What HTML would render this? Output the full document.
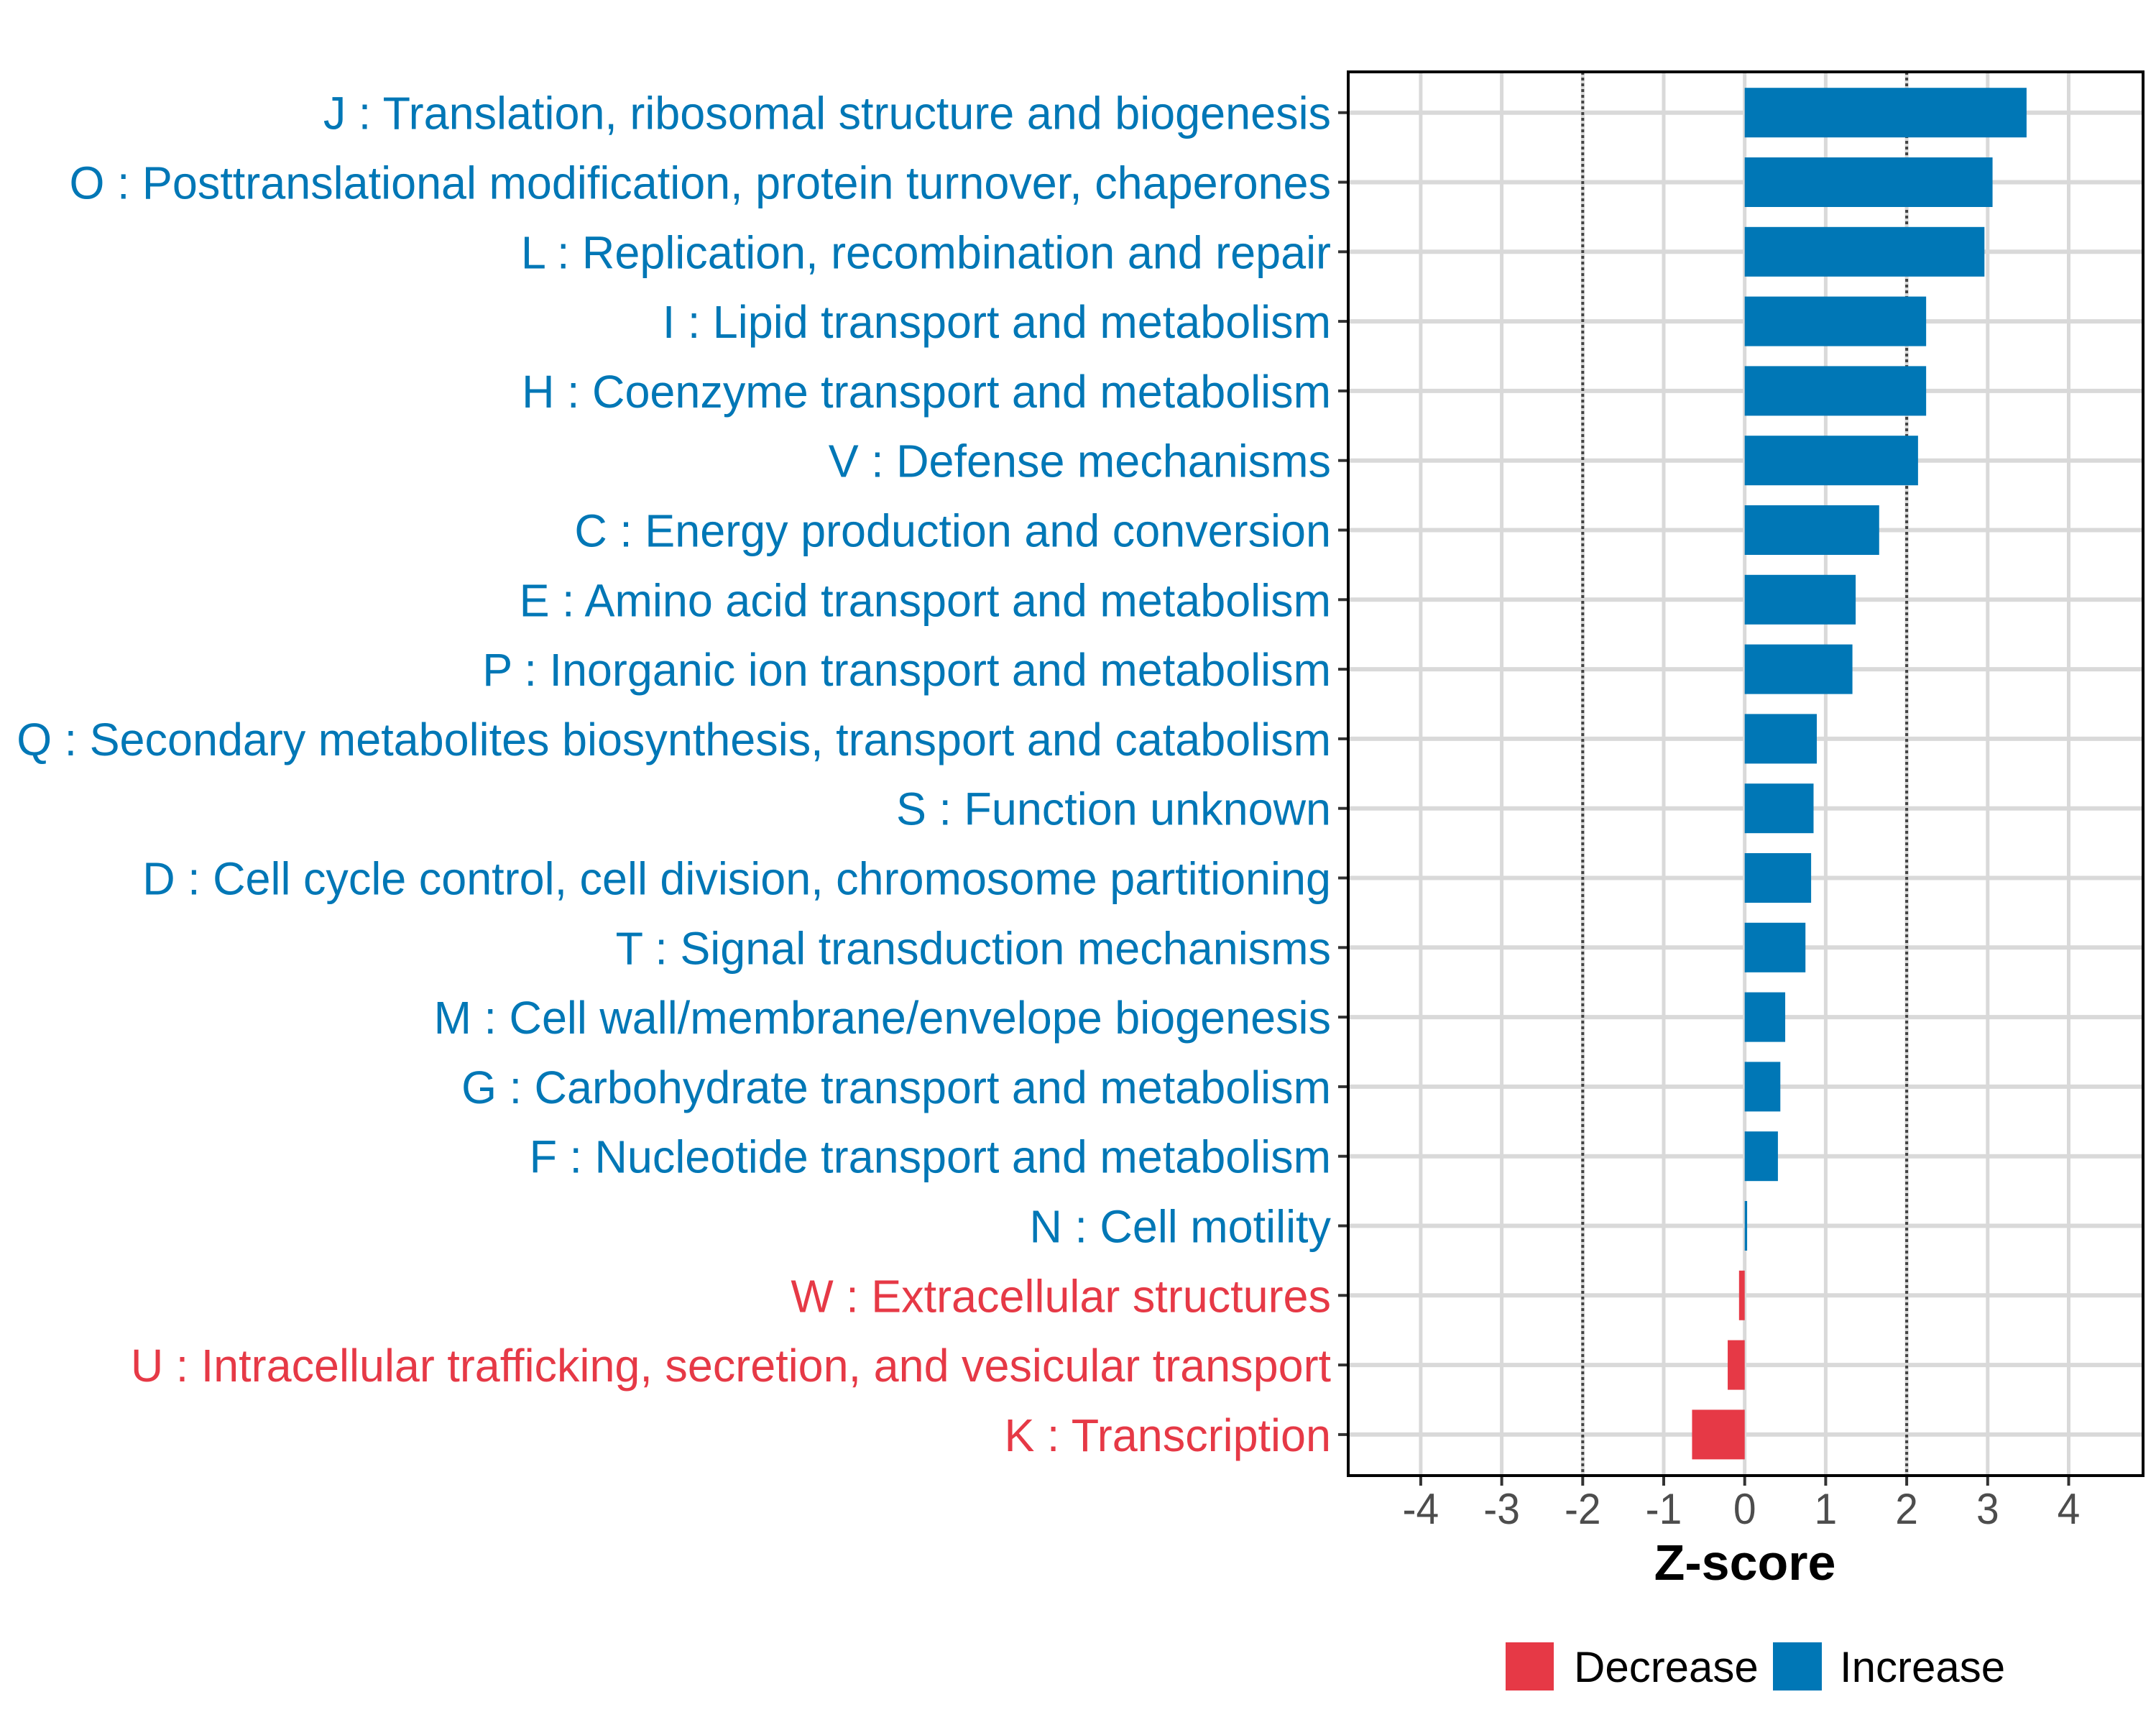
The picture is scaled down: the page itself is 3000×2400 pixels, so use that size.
<!DOCTYPE html>
<html><head><meta charset="utf-8"><style>
html,body{margin:0;padding:0;background:#fff}
svg{display:block;font-family:"Liberation Sans",Arial,sans-serif}
</style></head><body>
<svg id="chart" width="3000" height="2400" viewBox="0 0 3000 2400" xmlns="http://www.w3.org/2000/svg">
<rect width="3000" height="2400" fill="#fff"/>
<g id="grid"></g><g id="bars"></g><g id="labels"></g><g id="axis"></g>
<text x="2428" y="2198" text-anchor="middle" font-weight="bold" font-size="70" fill="#000">Z-score</text>
<g>
<rect x="2095" y="2285" width="67" height="67" fill="#e63946"/>
<text id="lg1" x="2190" y="2340" font-size="60" fill="#000">Decrease</text>
<rect x="2467" y="2285" width="68" height="67" fill="#0077b6"/>
<text id="lg2" x="2560" y="2340" font-size="60" fill="#000">Increase</text>
</g>
</svg>
<script>
const categories=["J : Translation, ribosomal structure and biogenesis","O : Posttranslational modification, protein turnover, chaperones","L : Replication, recombination and repair","I : Lipid transport and metabolism","H : Coenzyme transport and metabolism","V : Defense mechanisms","C : Energy production and conversion","E : Amino acid transport and metabolism","P : Inorganic ion transport and metabolism","Q : Secondary metabolites biosynthesis, transport and catabolism","S : Function unknown","D : Cell cycle control, cell division, chromosome partitioning","T : Signal transduction mechanisms","M : Cell wall/membrane/envelope biogenesis","G : Carbohydrate transport and metabolism","F : Nucleotide transport and metabolism","N : Cell motility","W : Extracellular structures","U : Intracellular trafficking, secretion, and vesicular transport","K : Transcription"];
const zscores=[3.48,3.06,2.96,2.24,2.24,2.14,1.66,1.37,1.33,0.89,0.85,0.82,0.75,0.50,0.44,0.41,0.03,-0.07,-0.21,-0.65];
const xTicks=[-4,-3,-2,-1,0,1,2,3,4];
const xTickLabels=["-4","-3","-2","-1","0","1","2","3","4"];
const refLines=[-2,2];

const NS="http://www.w3.org/2000/svg";
const PL=1876,PR=2982,PT=100,PB=2053;
const x=v=>2427.7+v*112.7;
const y=i=>156.7+i*96.8;
const BLUE="#0077b6",RED="#e63946";
function mk(tag,attrs,parent){const e=document.createElementNS(NS,tag);for(const k in attrs)e.setAttribute(k,attrs[k]);parent.appendChild(e);return e;}
const grid=document.getElementById('grid'),bars=document.getElementById('bars'),labels=document.getElementById('labels'),axis=document.getElementById('axis');
xTicks.forEach((t,i)=>{
  const l=mk('line',{x1:x(t),x2:x(t),y1:PT,y2:PB,stroke:'#d9d9d9','stroke-width':5},grid);
  
  
  const tk=mk('line',{x1:x(t),x2:x(t),y1:PB,y2:PB+14,stroke:'#333','stroke-width':4},axis);
  
  
  const tx=mk('text',{x:x(t),y:2120,'text-anchor':'middle','font-size':60,fill:'#4d4d4d',transform:`translate(${x(t)},0) scale(0.95,1) translate(${-x(t)},0)`},axis);
  tx.textContent=xTickLabels[i];
  
  
});
categories.forEach((c,i)=>{
  const l=mk('line',{x1:PL,x2:PR,y1:y(i),y2:y(i),stroke:'#d9d9d9','stroke-width':6},grid);
  
  
});
refLines.forEach(v=>{
  const l=mk('line',{x1:x(v),x2:x(v),y1:PT,y2:PB,stroke:'#444','stroke-width':4,'stroke-dasharray':'4 4'},grid);
  
  
});
const lab=mk('g',{},labels);
categories.forEach((c,i)=>{
  const v=zscores[i],col=v<0?RED:BLUE;
  const r=mk('rect',{x:Math.min(x(0),x(v)),y:y(i)-34.5,width:Math.max(Math.abs(x(v)-x(0)),1),height:69,fill:col},bars);
  
  
  const tk=mk('line',{x1:PL-14,x2:PL,y1:y(i),y2:y(i),stroke:'#333','stroke-width':4},axis);
  
  
  const t=mk('text',{x:0,y:y(i)+23,'text-anchor':'end','font-size':64,fill:col},lab);
  t.textContent=c;
  
  
});
mk('rect',{x:PL,y:PT,width:PR-PL,height:PB-PT,fill:'none',stroke:'#000','stroke-width':4},axis);
const q=lab.childNodes[9];
let s=0.82;
try{const w=q.getComputedTextLength();if(w>0)s=1829/w;}catch(e){}
lab.setAttribute('transform',`translate(1852,0) scale(${s},1)`);
</script>
</body></html>
